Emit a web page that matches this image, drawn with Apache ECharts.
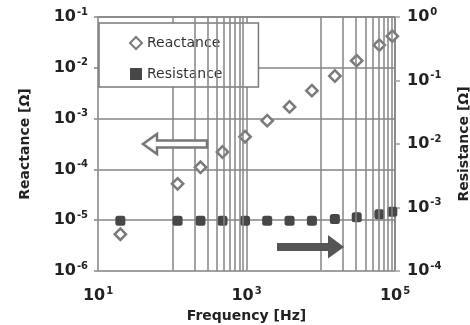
<!DOCTYPE html>
<html lang="en">
<head>
	<meta charset="UTF-8">
	<title>Reactance / Resistance vs Frequency</title>
	<script src="https://cdn.jsdelivr.net/npm/echarts@6/dist/echarts.min.js"></script>
	<style>
		html, body { margin: 0; padding: 0; background: #fff; }
	</style>
</head>
<body>
	<div id="main" style="width: 470px;height: 325px;"></div>
	<script>
		// values
		var freq = [20, 118, 240, 475, 955, 1900, 3800, 7600, 15500, 30500, 61500, 92000];
		var reactance = [5.3e-6, 5.2e-5, 1.1e-4, 2.2e-4, 4.4e-4, 9.1e-4, 1.7e-3, 3.55e-3, 6.9e-3, 1.38e-2, 2.8e-2, 4.2e-2];
		var resistance = [6.2e-4, 6.2e-4, 6.2e-4, 6.2e-4, 6.2e-4, 6.2e-4, 6.2e-4, 6.2e-4, 6.6e-4, 7.0e-4, 7.8e-4, 8.6e-4];
		// minor grid lines only drawn in two decades
		var minorLines = [200, 300, 400, 500, 600, 700, 800, 900,
			20000, 30000, 40000, 50000, 60000, 70000, 80000, 90000];

		var gridColor = '#858585';
		var labelColor = '#222';
		var fontFam = 'DejaVu Sans';

		function pow10(v) {
			var e = Math.round(Math.log(v) / Math.LN10);
			return '{b|10}{s|' + e + '}';
		}
		var richLabel = {
			b: { fontSize: 16, fontWeight: 'bold', color: labelColor, fontFamily: fontFam, lineHeight: 20 },
			s: { fontSize: 10, fontWeight: 'bold', color: labelColor, fontFamily: fontFam, verticalAlign: 'top', lineHeight: 20, padding: [0, 0, 6, 1] }
		};

		function pairs(xs, ys) {
			return xs.map(function (x, i) { return [x, ys[i]]; });
		}

		var myChart = echarts.init(document.getElementById('main'));
		var option = {
			animation: false,
			backgroundColor: '#fff',
			grid: { left: 98, right: 75, top: 17, bottom: 54, outerBoundsMode: 'none' },
			legend: {
				orient: 'vertical',
				left: 99,
				top: 23,
				padding: [13, 36, 6, 30],
				itemGap: 17,
				itemWidth: 12,
				itemHeight: 12,
				backgroundColor: '#fff',
				borderColor: '#7a7a7a',
				borderWidth: 1.5,
				textStyle: { fontSize: 14, color: '#333', fontFamily: fontFam },
				data: [
					{ name: 'Reactance', icon: 'path://M5 0L10 5L5 10L0 5Z' },
					{ name: 'Resistance', icon: 'rect' }
				]
			},
			xAxis: {
				type: 'log',
				logBase: 10,
				min: 10,
				max: 100000,
				splitNumber: 4,
				name: 'Frequency [Hz]',
				nameLocation: 'middle',
				nameGap: 37,
				nameTextStyle: { fontSize: 14, fontWeight: 'bold', color: labelColor, fontFamily: fontFam },
				axisLine: { lineStyle: { color: '#a0a0a0', width: 1.5 } },
				axisTick: { show: false },
				splitLine: { show: true, lineStyle: { color: gridColor, width: 1.5 } },
				axisLabel: {
					margin: 15,
					rich: richLabel,
					formatter: function (v) {
						var e = Math.round(Math.log(v) / Math.LN10);
						return e % 2 === 1 ? pow10(v) : '';
					}
				}
			},
			yAxis: [
				{
					type: 'log',
					logBase: 10,
					min: 1e-6,
					max: 1e-1,
					splitNumber: 5,
					position: 'left',
					name: 'Reactance [Ω]',
					nameLocation: 'middle',
					nameRotate: 90,
					nameGap: 66,
					nameTextStyle: { fontSize: 14, fontWeight: 'bold', color: labelColor, fontFamily: fontFam },
					axisLine: { show: true, lineStyle: { color: '#a0a0a0', width: 1.5 } },
					axisTick: { show: true, length: 4, lineStyle: { color: gridColor, width: 1.5 } },
					splitLine: { show: true, lineStyle: { color: gridColor, width: 1.5 } },
					axisLabel: { margin: 10, rich: richLabel, formatter: pow10 }
				},
				{
					type: 'log',
					logBase: 10,
					min: 1e-4,
					max: 1,
					splitNumber: 4,
					position: 'right',
					name: 'Resistance [Ω]',
					nameLocation: 'middle',
					nameRotate: 90,
					nameGap: 62,
					nameTextStyle: { fontSize: 14, fontWeight: 'bold', color: labelColor, fontFamily: fontFam },
					axisLine: { show: true, lineStyle: { color: gridColor, width: 1.5 } },
					axisTick: { show: true, length: 5, lineStyle: { color: '#a0a0a0', width: 1.5 } },
					splitLine: { show: false },
					axisLabel: { margin: 12, rich: richLabel, formatter: pow10 }
				}
			],
			series: [
				{
					name: 'minor',
					type: 'scatter',
					z: 1,
					data: [],
					silent: true,
					markLine: {
						silent: true,
						symbol: 'none',
						label: { show: false },
						lineStyle: { color: gridColor, width: 1.5, type: 'solid' },
						data: minorLines.map(function (v) { return { xAxis: v }; })
					}
				},
				{
					name: 'Reactance',
					type: 'scatter',
					yAxisIndex: 0,
					z: 3,
					symbol: 'rect',
					symbolRotate: 45,
					symbolSize: 8,
					itemStyle: { color: '#fff', borderColor: '#7a7a7a', borderWidth: 2.5, opacity: 1 },
					data: pairs(freq, reactance)
				},
				{
					name: 'Resistance',
					type: 'scatter',
					yAxisIndex: 1,
					z: 3,
					symbol: 'roundRect',
					symbolSize: 10,
					itemStyle: { color: '#474747', opacity: 1 },
					data: pairs(freq, resistance)
				}
			],
			graphic: [
				{
					type: 'polygon',
					z: 10,
					shape: { points: [[143, 144], [157, 134], [157, 140.5], [207, 140.5], [207, 147.5], [157, 147.5], [157, 154]] },
					style: { fill: '#fff', stroke: '#777', lineWidth: 2.5 }
				},
				{
					type: 'polygon',
					z: 10,
					shape: { points: [[277, 243], [328, 243], [328, 235], [344, 247], [328, 258.5], [328, 251], [277, 251]] },
					style: { fill: '#555', stroke: null }
				}
			]
		};
		myChart.setOption(option);
	</script>
</body>
</html>
